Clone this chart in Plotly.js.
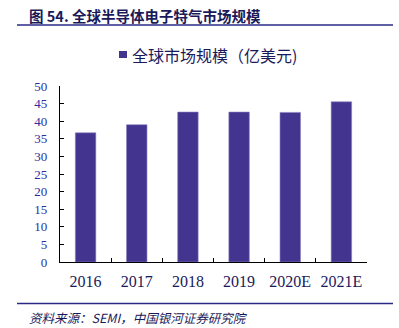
<!DOCTYPE html>
<html><head><meta charset="utf-8">
<script src="https://cdn.plot.ly/plotly-3.0.1.min.js"></script>
<style>html,body{margin:0;padding:0;background:#fff;}#c{width:399px;height:328px;}</style>
</head><body><div id="c"></div>
<script>
var categories = ["2016", "2017", "2018", "2019", "2020E", "2021E"];
var marketSize = [36.7, 39.0, 42.6, 42.6, 42.5, 45.5];
var seriesName = "全球市场规模（亿美元)";
var yTicks = [0, 5, 10, 15, 20, 25, 30, 35, 40, 45, 50];

var cjk = '"Noto Sans CJK SC", "Liberation Serif", serif';
var barColor = "#42348F";
var trace = {
  type: "bar", x: categories, y: marketSize, name: seriesName,
  marker: {color: barColor, line: {color: "#8A80C0", width: 0.6}},
  width: 0.4, showlegend: false, hoverinfo: "none"
};
var layout = {
  width: 399, height: 328,
  margin: {l: 60, r: 32, t: 86, b: 66},
  paper_bgcolor: "#fff", plot_bgcolor: "#fff",
  showlegend: false,
  xaxis: {type: "category", showline: true, linecolor: "#000", linewidth: 1.2, ticks: "inside", ticklen: 4,
          tickcolor: "#000", tickson: "boundaries", showgrid: false, zeroline: false, ticklabelstandoff: 5,
          tickfont: {family: '"Liberation Serif", serif', size: 16, color: "#1a1a5a"}},
  yaxis: {range: [0, 50], tickvals: yTicks, showline: true, linecolor: "#000", linewidth: 1.2,
          ticks: "inside", ticklen: 4, tickcolor: "#000", showgrid: false, zeroline: false, ticklabelstandoff: 9,
          tickfont: {family: '"Liberation Serif", serif', size: 13, color: "#2E2E9E"}},
  shapes: [
    {type: "line", xref: "paper", yref: "paper", x0: -43/307, x1: 333/307, y0: 1+61/176, y1: 1+61/176,
     line: {color: "#2A2A86", width: 1.5}},
    {type: "line", xref: "paper", yref: "paper", x0: -43/307, x1: 333/307, y0: -41.5/176, y1: -41.5/176,
     line: {color: "#2A2A86", width: 1.5}},
    {type: "rect", xref: "paper", yref: "paper", x0: 59/307, x1: 67/307, y0: (262-58)/176, y1: (262-51)/176,
     fillcolor: barColor, line: {width: 0}}
  ],
  annotations: [
    {text: "<b>图 54. 全球半导体电子特气市场规模</b>", xref: "paper", yref: "paper", x: -33/307, y: 1+71/176,
     xanchor: "left", yanchor: "middle", showarrow: false,
     font: {family: cjk, size: 14.5, color: "#1a1a5a"}},
    {text: seriesName, xref: "paper", yref: "paper", x: 70/307, y: (262-54.5)/176,
     xanchor: "left", yanchor: "middle", showarrow: false,
     font: {family: cjk, size: 16, color: "#1a1a5a"}},
    {text: "<i>资料来源：SEMI，中国银河证券研究院</i>", xref: "paper", yref: "paper", x: -33/307, y: -55/176,
     xanchor: "left", yanchor: "middle", showarrow: false,
     font: {family: cjk, size: 12.5, color: "#1a1a5a"}}
  ]
};
Plotly.newPlot("c", [trace], layout, {displayModeBar: false, staticPlot: true});
</script></body></html>
